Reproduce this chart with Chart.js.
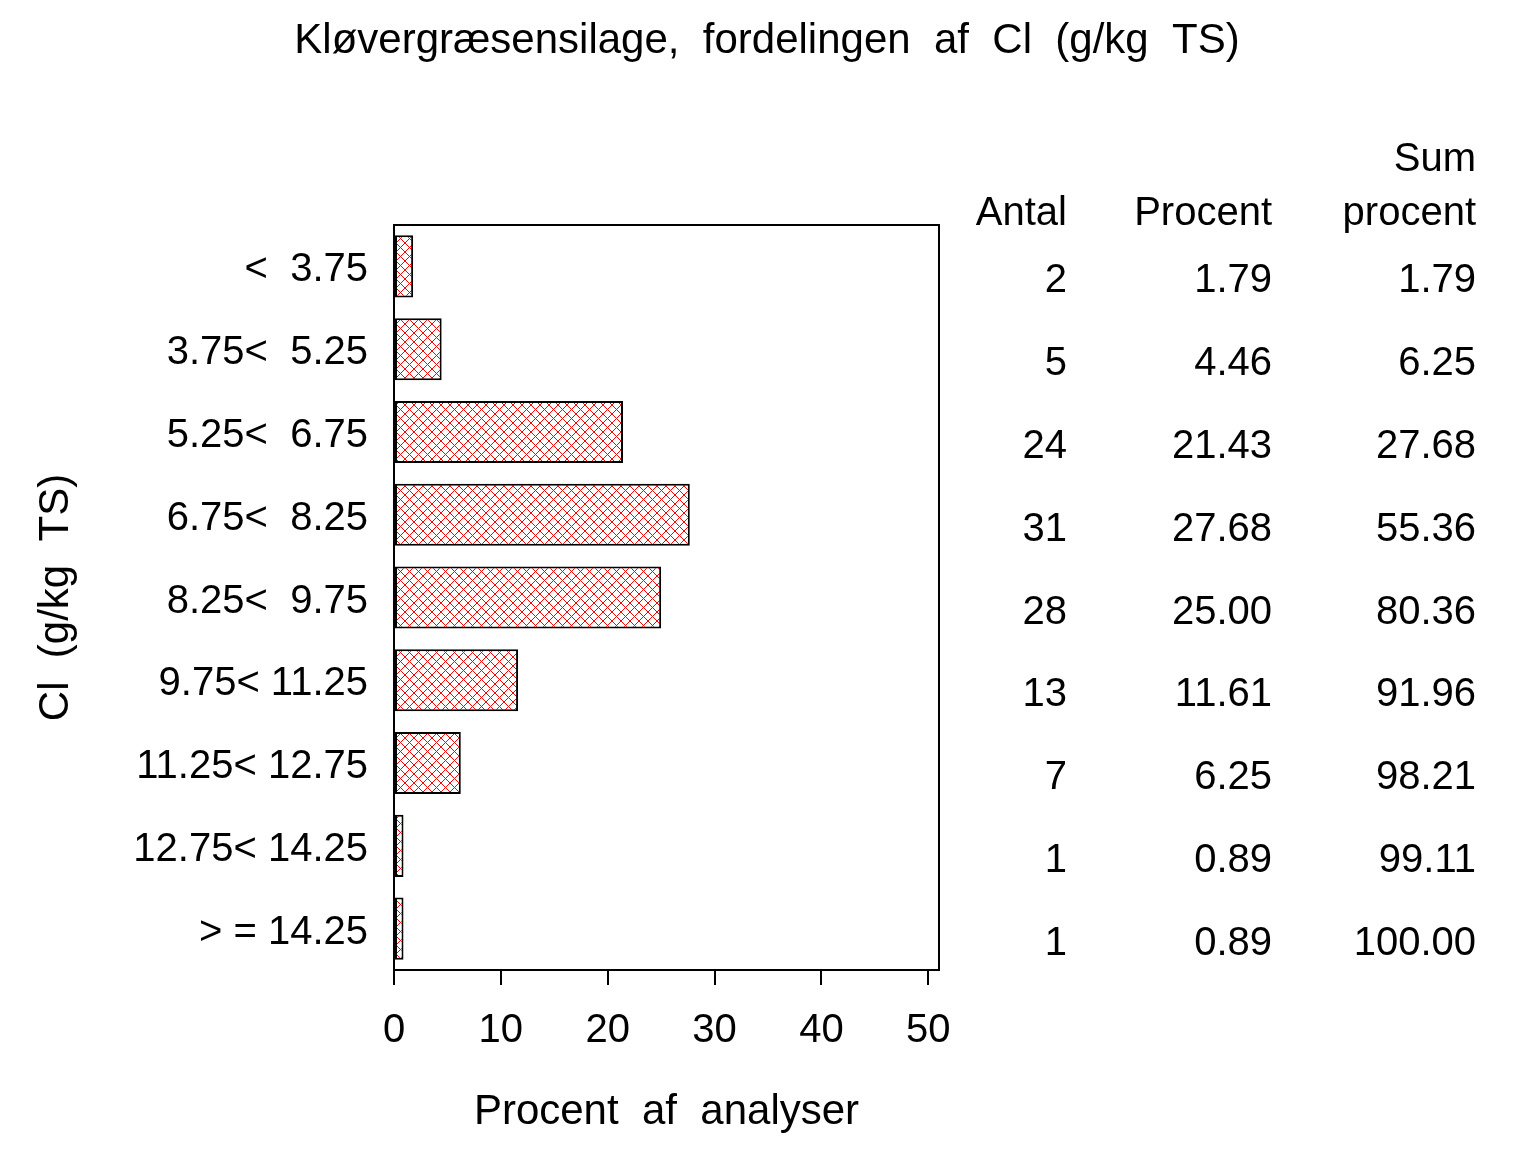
<!DOCTYPE html>
<html>
<head>
<meta charset="utf-8">
<script src="https://cdn.jsdelivr.net/npm/chart.js@4.4.1/dist/chart.umd.min.js"></script>
<style>
  html, body { margin: 0; padding: 0; background: #fff; }
  #wrap { width: 1536px; height: 1152px; }
</style>
</head>
<body>
<div id="wrap"><canvas id="chart" width="1536" height="1152"></canvas></div>
<script>
// --- Data ---
const title      = 'Kløvergræsensilage,  fordelingen  af  Cl  (g/kg  TS)';
const categories = ['<  3.75', '3.75<  5.25', '5.25<  6.75', '6.75<  8.25', '8.25<  9.75',
                    '9.75< 11.25', '11.25< 12.75', '12.75< 14.25', '> = 14.25'];
const antal      = [2, 5, 24, 31, 28, 13, 7, 1, 1];
const procent    = [1.79, 4.46, 21.43, 27.68, 25.00, 11.61, 6.25, 0.89, 0.89];
const sumProcent = [1.79, 6.25, 27.68, 55.36, 80.36, 91.96, 98.21, 99.11, 100.00];
const xTicks     = [0, 10, 20, 30, 40, 50];

const FONT = "'Liberation Sans', Arial, Helvetica, sans-serif";

// --- Red cross-hatch fill ---
function makeHatch() {
  const c = document.createElement('canvas');
  c.width = 9; c.height = 9;
  const g = c.getContext('2d');
  g.fillStyle = '#fff';
  g.fillRect(0, 0, 9, 9);
  g.strokeStyle = '#ff0000';
  g.lineWidth = 1;
  g.beginPath();
  g.moveTo(0, 0); g.lineTo(9, 9);
  g.moveTo(9, 0); g.lineTo(0, 9);
  g.stroke();
  return g.createPattern(c, 'repeat');
}

// --- Title, frame and the table on the right ---
const framePlugin = {
  id: 'frame',
  afterDraw(chart) {
    const { ctx, chartArea: a } = chart;
    ctx.save();
    ctx.strokeStyle = '#000';
    ctx.lineWidth = 2;
    ctx.strokeRect(a.left, a.top, a.right - a.left, a.bottom - a.top);

    ctx.fillStyle = '#000';
    ctx.font = '42px ' + FONT;
    ctx.textBaseline = 'middle';
    ctx.textAlign = 'center';
    ctx.fillText(title, 767, 41);

    const y = chart.scales.y;
    ctx.font = '40px ' + FONT;
    ctx.textAlign = 'right';
    const cols = [1067, 1272, 1476];
    ctx.fillText('Sum', cols[2], 160);
    ctx.fillText('Antal', cols[0], 214);
    ctx.fillText('Procent', cols[1], 214);
    ctx.fillText('procent', cols[2], 214);
    categories.forEach((_, i) => {
      const py = y.getPixelForValue(i) + 15;
      ctx.fillText(String(antal[i]), cols[0], py);
      ctx.fillText(procent[i].toFixed(2), cols[1], py);
      ctx.fillText(sumProcent[i].toFixed(2), cols[2], py);
    });
    ctx.restore();
  }
};

new Chart(document.getElementById('chart'), {
  type: 'bar',
  data: {
    labels: categories,
    datasets: [{
      data: procent,
      backgroundColor: makeHatch(),
      borderColor: '#000',
      borderWidth: 2,
      borderSkipped: false,
      categoryPercentage: 0.75,
      barPercentage: 1.0,
    }]
  },
  options: {
    indexAxis: 'y',
    responsive: false,
    animation: false,
    layout: { padding: { left: 0, right: 597, top: 225, bottom: 0 } },
    plugins: {
      legend: { display: false },
      tooltip: { enabled: false },
      title: { display: false }
    },
    scales: {
      x: {
        type: 'linear',
        min: 0,
        max: 51,
        afterBuildTicks: s => { s.ticks = xTicks.map(v => ({ value: v })); },
        afterFit: s => { s.height = 182; },
        grid: { display: true, drawOnChartArea: false, drawTicks: true, tickLength: 15, color: '#000', lineWidth: 2 },
        border: { display: true, color: '#000', width: 2 },
        ticks: { color: '#000', padding: 22, font: { family: FONT, size: 40 } },
        title: {
          display: true,
          text: 'Procent  af  analyser',
          color: '#000',
          font: { family: FONT, size: 42 },
          padding: { top: 0, bottom: 14 },
        }
      },
      y: {
        afterFit: s => { s.width = 394; },
        grid: { display: false, drawTicks: false },
        border: { display: true, color: '#000', width: 2 },
        ticks: { color: '#000', padding: 26, labelOffset: 4, font: { family: FONT, size: 40 } },
        title: {
          display: true,
          text: 'Cl  (g/kg  TS)',
          color: '#000',
          font: { family: FONT, size: 42 },
          padding: { top: 31, bottom: 0 },
        }
      }
    }
  },
  plugins: [framePlugin]
});
</script>
</body>
</html>
